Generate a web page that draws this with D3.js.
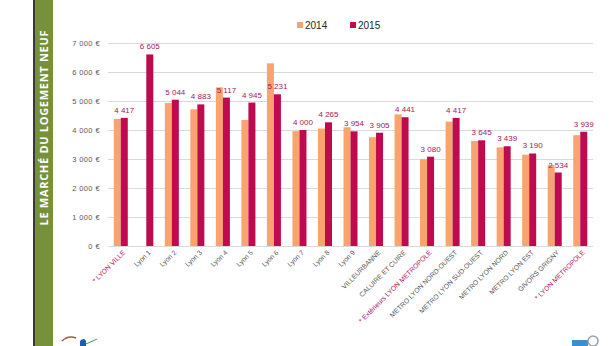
<!DOCTYPE html>
<html lang="fr">
<head>
<meta charset="UTF-8">
<title>Le marché du logement neuf</title>
<style>
    body {
        margin: 0;
        padding: 0;
        background: #fff;
    }

    svg {
        display: block;
        font-family: "Liberation Sans", Arial, sans-serif;
    }

    .grid line {
        stroke: #d9d9d9;
        stroke-width: 1;
    }

    .grid .domain {
        display: none;
    }

    .grid text {
        fill: #595959;
        font-size: 7.5px;
        letter-spacing: 0.4px;
    }

    .value-label {
        fill: #a3195b;
        font-size: 8px;
        text-anchor: middle;
    }

    .cat-label {
        font-size: 6.8px;
        text-anchor: end;
        fill: #595959;
    }

    .cat-label.star {
        fill: #b5175e;
    }
</style>
</head>
<body>
<svg width="616" height="346"></svg>

<script src="https://d3js.org/d3.v7.min.js"></script>
<script>
    // prix moyen au m² du logement neuf, par secteur
    const categories = [
        "* LYON VILLE", "Lyon 1", "Lyon 2", "Lyon 3", "Lyon 4", "Lyon 5", "Lyon 6",
        "Lyon 7", "Lyon 8", "Lyon 9", "VILLEURBANNE", "CALUIRE ET CUIRE",
        "* Extérieurs LYON METROPOLE", "METRO LYON NORD-OUEST", "METRO LYON SUD-OUEST",
        "METRO LYON NORD", "METRO LYON EST", "GIVORS GRIGNY", "* LYON METROPOLE"
    ];
    const years = ["2014", "2015"];
    const prix2014 = [4380, null, 4930, 4715, 5470, 4345, 6300, 3960, 4050, 4095, 3750, 4540, 2990, 4290, 3620, 3400, 3150, 2790, 3820];
    const prix2015 = [4417, 6605, 5044, 4883, 5117, 4945, 5231, 4000, 4265, 3954, 3905, 4441, 3080, 4417, 3645, 3439, 3190, 2534, 3939];
    const yTicks = [0, 1000, 2000, 3000, 4000, 5000, 6000, 7000];

    const colors = { "2014": "#f9a46e", "2015": "#c00a4f" };

    const svg = d3.select("svg");
    const width = 616, height = 346;

    const fr = d3.formatLocale({ decimal: ",", thousands: " ", grouping: [3], currency: ["", " €"] });
    const fmtNum = fr.format(",.0f");

    // bandeau vertical à gauche
    svg.append("rect")
        .attr("x", 33).attr("y", 0)
        .attr("width", 2).attr("height", height)
        .attr("fill", "#3a3a2e");
    svg.append("rect")
        .attr("x", 35).attr("y", 0)
        .attr("width", 18).attr("height", height)
        .attr("fill", "#77913a");
    svg.append("text")
        .attr("transform", "translate(48,128) rotate(-90)")
        .attr("text-anchor", "middle")
        .attr("fill", "#fff")
        .attr("font-family", "'Open Sans', sans-serif")
        .attr("font-weight", "bold")
        .attr("font-size", 11)
        .attr("textLength", 195)
        .text("LE MARCHÉ DU LOGEMENT NEUF");

    // scales
    const x = d3.scaleBand()
        .domain(categories)
        .range([108, 593]);

    const xInner = d3.scaleBand()
        .domain(years)
        .range([0, x.bandwidth()])
        .paddingInner(0)
        .paddingOuter(0.82);

    const y = d3.scaleLinear()
        .domain([0, 7000])
        .range([246, 43]);

    // grid + y axis
    svg.append("g")
        .attr("class", "grid")
        .attr("transform", "translate(593,0)")
        .call(d3.axisLeft(y)
            .tickValues(yTicks)
            .tickSize(593 - 108)
            .tickPadding(8)
            .tickFormat(d => fmtNum(d) + " €"));

    const rows = categories.map((c, i) => ({ cat: c, "2014": prix2014[i], "2015": prix2015[i] }));

    // bars
    const groups = svg.append("g")
        .selectAll("g")
        .data(rows)
        .enter()
        .append("g")
        .attr("transform", d => `translate(${x(d.cat)},0)`);

    groups.selectAll("rect")
        .data(d => years.map(k => ({ key: k, value: d[k] })).filter(e => e.value != null))
        .enter()
        .append("rect")
        .attr("x", d => xInner(d.key))
        .attr("y", d => y(d.value))
        .attr("width", xInner.bandwidth())
        .attr("height", d => y(0) - y(d.value))
        .attr("fill", d => colors[d.key]);

    // valeurs 2015 au-dessus des barres
    groups.append("text")
        .attr("class", "value-label")
        .attr("x", xInner("2015") + xInner.bandwidth() / 2)
        .attr("y", d => y(d["2015"]) - 5)
        .text(d => fmtNum(d["2015"]));

    // category labels, rotated
    svg.append("g")
        .selectAll("text")
        .data(categories)
        .enter()
        .append("text")
        .attr("class", d => d.startsWith("*") ? "cat-label star" : "cat-label")
        .attr("transform", d => `translate(${x(d) + x.bandwidth() / 2 + 5},253) rotate(-45)`)
        .text(d => d);

    // legend
    const legend = svg.append("g")
        .selectAll("g")
        .data(years)
        .enter()
        .append("g")
        .attr("transform", (d, i) => `translate(${297 + i * 53},22)`);
    legend.append("rect")
        .attr("width", 6).attr("height", 6)
        .attr("fill", d => colors[d]);
    legend.append("text")
        .attr("x", 8).attr("y", 6.5)
        .attr("font-size", 10)
        .attr("fill", "#262626")
        .text(d => d);

    // petits logos en pied de page
    const logos = svg.append("g");
    logos.append("path")
        .attr("d", "M62,341 Q68,335 76,338")
        .attr("fill", "none").attr("stroke", "#b5533c").attr("stroke-width", 1.5);
    logos.append("path")
        .attr("d", "M80,346 L80,341 Q84,337 86,341 L86,346 Z")
        .attr("fill", "#1f5fa8");
    logos.append("path")
        .attr("d", "M86,344 L97,339")
        .attr("stroke", "#3a9a5a").attr("stroke-width", 1);
    logos.append("rect")
        .attr("x", 572).attr("y", 340).attr("width", 16).attr("height", 6)
        .attr("fill", "#3a8fd0");
    logos.append("circle")
        .attr("cx", 593).attr("cy", 341).attr("r", 5)
        .attr("fill", "none").attr("stroke", "#9aa0a6").attr("stroke-width", 1.5);
</script>
</body>
</html>
